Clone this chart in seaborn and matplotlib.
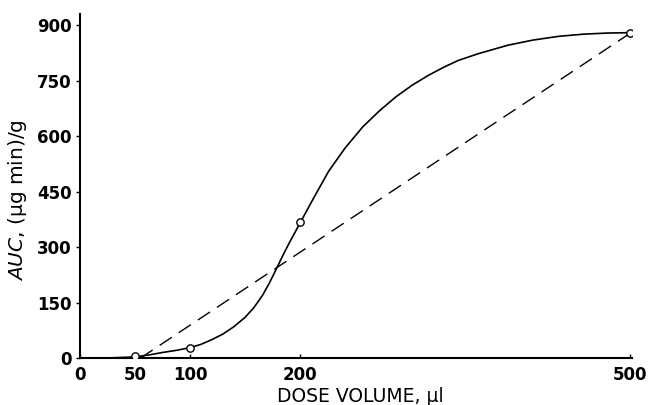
"""
AUC vs dose volume: smooth fitted curve (solid), straight reference
line (dashed) and the measured points (open circles).
"""
import numpy as np
import matplotlib
matplotlib.use("Agg")
import matplotlib.pyplot as plt
import pandas as pd
import seaborn as sns

# measured points
dose = [50, 100, 200, 500]
auc = [5, 28, 367, 878]

# solid curve
curve_x = [0, 25, 50, 62, 75, 88, 100, 110, 120, 130, 140, 150, 158, 166,
           172, 178, 184, 190, 200, 213, 226, 241, 257, 272, 287, 302, 317,
           331, 344, 362, 389, 412, 435, 458, 480, 500]
curve_y = [0, 0, 3, 8, 15, 21, 28, 37, 50, 65, 85, 110, 136, 170,
           202, 238, 275, 310, 365, 436, 505, 568, 625, 668, 706, 738, 765,
           787, 805, 823, 846, 860, 870, 876, 879, 880]

# dashed straight line
line_x = [55, 500]
line_y = [0, 878]

xticks = [0, 50, 100, 200, 500]
yticks = [0, 150, 300, 450, 600, 750, 900]

sns.set_theme(style="ticks")
plt.rcParams['font.family'] = ['DejaVu Sans']
plt.rcParams['mathtext.fontset'] = 'dejavusans'

fig = plt.figure(figsize=(6.51, 4.05), dpi=100)
ax = fig.add_axes([0.123, 0.116, 0.848, 0.849])

df_curve = pd.DataFrame({"x": curve_x, "y": curve_y})
df_line = pd.DataFrame({"x": line_x, "y": line_y})
df_pts = pd.DataFrame({"x": dose, "y": auc})

sns.lineplot(data=df_curve, x="x", y="y", ax=ax, color="black", lw=1.2,
             sort=False, estimator=None)
sns.lineplot(data=df_line, x="x", y="y", ax=ax, color="black", lw=1.0,
             estimator=None)
ax.lines[-1].set_dashes((10.5, 6))
sns.scatterplot(data=df_pts, x="x", y="y", ax=ax, s=28, marker="o",
                facecolor="white", edgecolor="black", linewidth=1.0, zorder=5)

ax.set_xlim(0, 502)
ax.set_ylim(0, 930)
ax.set_xticks(xticks)
ax.set_yticks(yticks)
ax.tick_params(axis="x", direction="in", length=3, width=1, pad=6,
               labelsize=12, colors="black")
ax.tick_params(axis="y", direction="out", length=3, width=1, pad=3,
               labelsize=12, colors="black")
for lab in ax.get_xticklabels() + ax.get_yticklabels():
    lab.set_fontweight("bold")

sns.despine(ax=ax)
for side in ["left", "bottom"]:
    ax.spines[side].set_linewidth(1.5)
    ax.spines[side].set_color("black")

ax.set_xlabel("DOSE VOLUME, \u00b5l", fontsize=13.5, color="black")
ax.set_ylabel("$\\mathit{AUC}$, (\u00b5g min)/g", fontsize=14.5, color="black")
ax.xaxis.set_label_coords(0.507, -0.085)
ax.yaxis.set_label_coords(-0.092, 0.46)

fig.savefig("out.png", dpi=100)
